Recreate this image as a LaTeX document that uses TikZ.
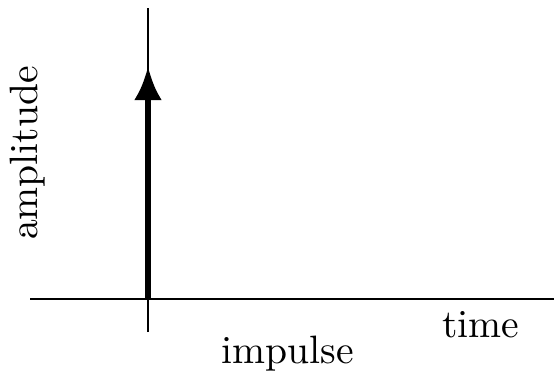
\documentclass[tikz,border=0pt]{standalone}
\usetikzlibrary{arrows.meta}

\begin{document}
\begin{tikzpicture}[x=0.2525pt,y=-0.2525pt,>=Latex,
  axis/.style={line width=0.5pt},
  spike/.style={->,line width=1.6pt,
    arrows={-Latex[length=8.6pt,width=7pt]}}]
  \useasboundingbox (0,0) rectangle (554,377);
  \coordinate (origin) at (148,299);
  \coordinate (xleft) at (30,299);
  \coordinate (xright) at (554,299);
  \coordinate (ytop) at (148,8);
  \coordinate (ybottom) at (148,332);
  \coordinate (peak) at (148,66);
  \draw[axis] (xleft) -- (xright);
  \draw[axis] (ybottom) -- (ytop);
  \draw[spike] (origin) -- (peak);
  \node (amp) at (28,153) [rotate=90] {amplitude};
  \node (time) at (481,325) {time};
  \node (imp) at (288,354) {impulse};
\end{tikzpicture}
\end{document}
